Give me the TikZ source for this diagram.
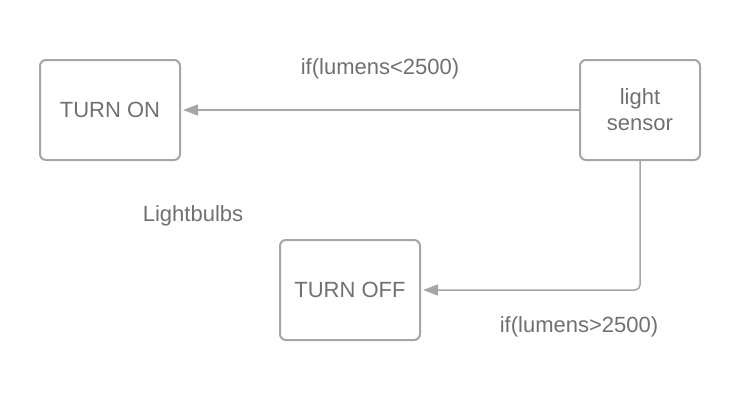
\documentclass[tikz,border=0pt]{standalone}
\usepackage{fontspec}
\setmainfont{Liberation Sans}
\usetikzlibrary{arrows.meta}
\definecolor{boxline}{HTML}{A6A6A6}
\definecolor{txt}{HTML}{707070}
\begin{document}
\begin{tikzpicture}[x=1pt,y=-1pt,
  statebox/.style={draw=boxline, line width=2pt, rounded corners=6pt, minimum width=140pt, minimum height=100pt, inner sep=0pt, text=txt, font=\fontsize{22}{26}\selectfont, align=center},
  lbl/.style={text=txt, font=\fontsize{22}{26}\selectfont, inner sep=0pt},
  conn/.style={draw=boxline, line width=1.5pt, -{Triangle[length=15pt,width=11pt]}, shorten >=2pt}]
\useasboundingbox (0,0) rectangle (740,400);
\node[statebox] (on) at (110,110) {TURN ON};
\node[statebox, minimum width=120pt] (sensor) at (640,110) {light\\sensor};
\node[statebox] (off) at (350,290) {TURN OFF};
\node[lbl] (l1) at (380,69) {if(lumens<2500)};
\node[lbl] (l2) at (193,216) {Lightbulbs};
\node[lbl] (l3) at (579,327) {if(lumens>2500)};
\draw[conn] (sensor.west) -- (on.east);
\draw[conn, rounded corners=5pt] (sensor.south) |- (off.east);
\end{tikzpicture}
\end{document}
